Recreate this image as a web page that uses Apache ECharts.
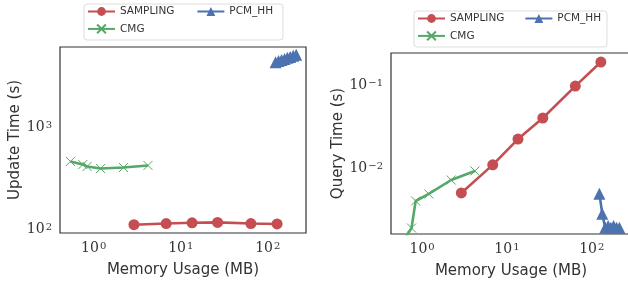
<!DOCTYPE html>
<html>
<head>
<meta charset="utf-8">
<script src="https://cdn.jsdelivr.net/npm/echarts@6/dist/echarts.min.js"></script>
<style>
  html, body { margin: 0; padding: 0; background: #fff; }
  #chart { width: 628px; height: 284px; }
</style>
</head>
<body>
<div id="chart"></div>
<script>
/* ---- data (memory usage MB vs time s) ---- */
const legendRow1 = ['SAMPLING', 'PCM_HH'];
const legendRow2 = ['CMG'];

const samplingMem = [2.9, 6.8, 13.5, 26.5, 64, 128];
const samplingUpdate = [112, 115, 117, 118, 115, 114];
const samplingQuery = [0.0050, 0.0109, 0.0223, 0.040, 0.097, 0.189];

const cmgMem = [0.54, 0.75, 0.84, 1.2, 2.2, 4.2];
const cmgUpdate = [464, 433, 415, 396, 405, 424];
const cmgQuery = [0.0011, 0.00189, 0.0040, 0.00486, 0.00716, 0.0092];

const pcmMem = [123, 133, 144, 156, 168, 181, 196, 212];
const pcmUpdate = [4300, 4420, 4520, 4640, 4760, 4860, 4980, 5100];
const pcmQuery = [0.0049, 0.0028, 0.0019, 0.0020, 0.0019, 0.0020, 0.0019, 0.0019];

const C_RED = '#C44E52', C_GREEN = '#55A868', C_BLUE = '#4C72B0';
const SANS = "'DejaVu Sans', sans-serif";
const SERIF = "'DejaVu Serif', serif";
const X_SYMBOL = 'path://M0,0 L10,10 M10,0 L0,10';

const pairs = (xs, ys) => xs.map((x, i) => [x, ys[i]]);

/* 10^n tick labels */
function powLabel(v) {
  const e = Math.round(Math.log10(v));
  return '{b|10}{e|' + String(e).replace('-', '\u2212') + '}';
}
const tickRich = {
  b: { fontFamily: SERIF, fontSize: 14, color: '#333', lineHeight: 14, verticalAlign: 'bottom' },
  e: { fontFamily: SERIF, fontSize: 10, color: '#333', lineHeight: 12, verticalAlign: 'top', padding: [0, 0, 7, 1] }
};

function xAxis(gridIndex, min, max) {
  return {
    type: 'log', logBase: 10, gridIndex, min, max,
    name: 'Memory Usage (MB)', nameLocation: 'middle', nameGap: 28,
    nameTextStyle: { fontFamily: SANS, fontSize: 15, color: '#333' },
    axisLine: { show: false },
    axisTick: { show: false }, minorTick: { show: false },
    splitLine: { show: false },
    axisLabel: { margin: 8, showMinLabel: false, showMaxLabel: false, formatter: powLabel, rich: tickRich }
  };
}

function yAxis(gridIndex, min, max, name, gap) {
  return {
    type: 'log', logBase: 10, gridIndex, min, max,
    name, nameLocation: 'middle', nameGap: gap,
    nameTextStyle: { fontFamily: SANS, fontSize: 15, color: '#333' },
    axisLine: { show: false },
    axisTick: { show: false }, minorTick: { show: false },
    splitLine: { show: false },
    axisLabel: { margin: 8, showMinLabel: false, showMaxLabel: false, formatter: powLabel, rich: tickRich }
  };
}

function series(name, data, gi, color, symbol, size) {
  const isX = symbol === X_SYMBOL;
  return {
    name, type: 'line', xAxisIndex: gi, yAxisIndex: gi, data,
    symbol, symbolSize: size, showSymbol: true, clip: true,
    lineStyle: { color, width: 2.6 },
    itemStyle: { color: isX ? 'none' : color, borderColor: color, borderWidth: isX ? 1 : 0 },
    emphasis: { disabled: true },
    animation: false
  };
}

function legendRow(data, left, top, gap) {
  return {
    data, left, top, padding: 0,
    orient: 'horizontal', itemWidth: 27, itemHeight: 11, itemGap: gap,
    textStyle: { fontFamily: SANS, fontSize: 10.5, color: '#333' },
    selectedMode: false
  };
}

// legend frame (matplotlib style rounded box)
function legendBox(x, y, w, h) {
  return {
    type: 'rect', left: x, top: y, z: -1,
    shape: { width: w, height: h, r: 3 },
    style: { fill: '#fff', stroke: '#ddd', lineWidth: 1 }
  };
}

const chart = echarts.init(document.getElementById('chart'), null, { renderer: 'canvas' });

chart.setOption({
  animation: false,
  backgroundColor: '#fff',
  legend: [
    legendRow(legendRow1, 87, 6, 22), legendRow(legendRow2, 87, 22, 22),
    legendRow(legendRow1, 417, 13, 20), legendRow(legendRow2, 417, 29, 20)
  ],
  graphic: [legendBox(83.5, 3.5, 199, 36), legendBox(413.5, 10.5, 193, 36)],
  grid: [
    { left: 60, top: 47, width: 246, height: 186, show: true, borderColor: '#333', borderWidth: 1.2, outerBoundsMode: 'none' },
    { left: 391, top: 53, width: 240, height: 181, show: true, borderColor: '#333', borderWidth: 1.2, outerBoundsMode: 'none' }
  ],
  xAxis: [xAxis(0, 0.41, 275), xAxis(1, 0.43, 290)],
  yAxis: [
    yAxis(0, 93, 6070, 'Update Time (s)', 31),
    yAxis(1, 0.0016, 0.243, 'Query Time (s)', 42)
  ],
  series: [
    series('SAMPLING', pairs(samplingMem, samplingUpdate), 0, C_RED, 'circle', 11),
    series('CMG', pairs(cmgMem, cmgUpdate), 0, C_GREEN, X_SYMBOL, 9),
    series('PCM_HH', pairs(pcmMem, pcmUpdate), 0, C_BLUE, 'triangle', 12),
    series('SAMPLING', pairs(samplingMem, samplingQuery), 1, C_RED, 'circle', 11),
    series('CMG', pairs(cmgMem, cmgQuery), 1, C_GREEN, X_SYMBOL, 9),
    series('PCM_HH', pairs(pcmMem, pcmQuery), 1, C_BLUE, 'triangle', 12)
  ]
});
</script>
</body>
</html>
